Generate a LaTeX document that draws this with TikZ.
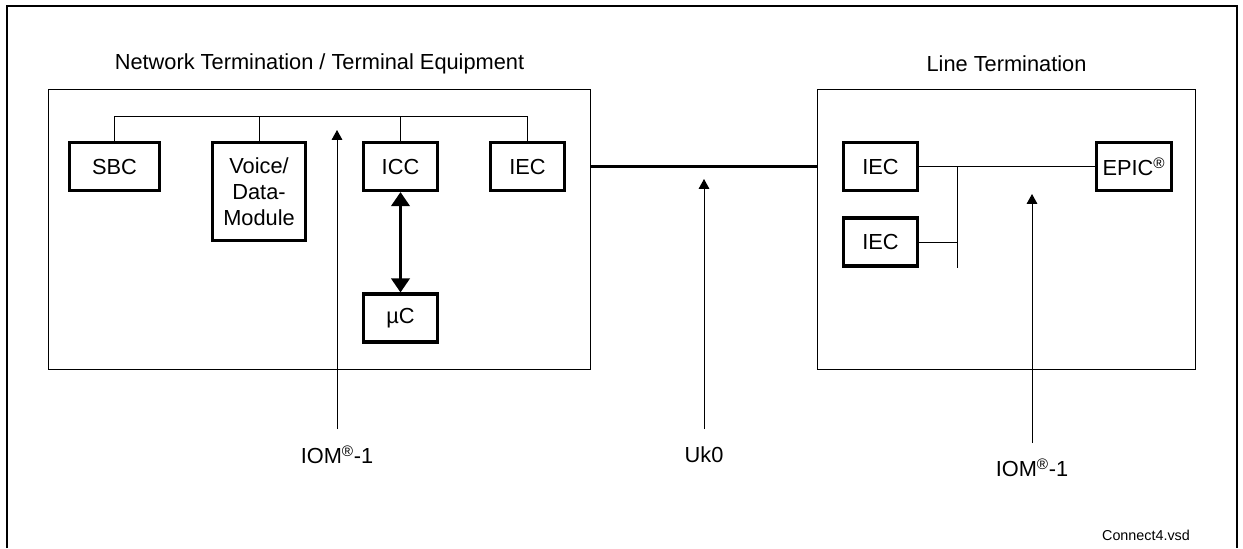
\documentclass[tikz,border=0pt]{standalone}
\usepackage{fontspec}
\setmainfont{Liberation Sans}
\usetikzlibrary{arrows.meta,positioning}

\begin{document}
\begin{tikzpicture}[x=0.025cm,y=-0.025cm,
  chip/.style={draw,line width=2.2pt,inner sep=0pt,minimum width=1.85cm,minimum height=1.2cm,align=center,font=\fontsize{15.5}{18.5}\selectfont},
  unit/.style={draw,line width=0.7pt,inner sep=0pt,minimum height=6.975cm},
  bus/.style={line width=0.7pt},
  link/.style={line width=2.1pt},
  arrow/.style={-{Triangle[length=7pt,width=7.5pt]},line width=0.7pt},
  dual/.style={{Triangle[length=10pt,width=13pt]}-{Triangle[length=10pt,width=13pt]},line width=2.2pt},
  note/.style={font=\fontsize{15.5}{18.5}\selectfont,inner sep=0pt}
]
\path[use as bounding box,fill=white] (0,0) rectangle (1243,548);
\draw[line width=1.4pt] (7,548) -- (7,6) -- (1237,6) -- (1237,548);

% network termination side
\node[unit,minimum width=13.525cm] (nt) at (319.5,229.5) {};
\node[note] (nttitle) at (319.5,64) {Network Termination / Terminal Equipment};
\node[chip,minimum width=2.25cm] (sbc) at (114.5,166.5) {SBC};
\node[chip,minimum width=2.325cm,minimum height=2.45cm] (voice) at (259,191.5) {Voice/\\Data-\\Module};
\node[chip] (icc) at (400.5,166.5) {ICC};
\node[chip] (ntiec) at (527.5,166.5) {IEC};
\node[chip] (uc) at (400.5,318) {µC};
\coordinate (ntbus) at (0,116);
\draw[bus] (sbc.north) |- (ntiec.north |- ntbus) -- (ntiec.north);
\foreach \n in {voice,icc}
  \draw[bus] (\n.north) -- (\n.north |- ntbus);
\draw[dual] (icc.south) -- (uc.north);

% line termination side
\node[unit,minimum width=9.425cm] (lt) at (1006.5,229.5) {};
\node[note] (lttitle) at (1006.5,64) {Line Termination};
\node[chip] (ltiec) at (880.5,166.5) {IEC};
\node[chip] (ltiecb) at (880.5,242) {IEC};
\node[chip,minimum width=1.875cm] (epic) at (1134,166.5) {EPIC\textsuperscript{\textregistered}};
\coordinate (ltbus) at (957,268);
\draw[bus] (ltiec.east) -- (epic.west);
\draw[bus] (ltiec.east -| ltbus) -- (ltbus);
\draw[bus] (ltiecb.east) -- (ltiecb.east -| ltbus);

% Uk0 line
\draw[link] (nt.east |- ntiec.east) -- (lt.west |- ntiec.east);

% interface labels
\coordinate (ntprobe) at (337,130);
\coordinate (ukprobe) at (704,179);
\coordinate (ltprobe) at (1032,194);
\node[note] (iomnt) at (337,455) {IOM\textsuperscript{\textregistered}-1};
\node[note] (uk) at (704,455) {Uk0};
\node[note] (iomlt) at (1032,468) {IOM\textsuperscript{\textregistered}-1};
\draw[arrow] ([yshift=0.65cm]iomnt.center) -- (ntprobe);
\draw[arrow] ([yshift=0.65cm]uk.center) -- (ukprobe);
\draw[arrow] ([yshift=0.625cm]iomlt.center) -- (ltprobe);

\node[font=\fontsize{10.2}{12}\selectfont,inner sep=0pt] (file) at (1146,535) {Connect4.vsd};
\end{tikzpicture}
\end{document}
